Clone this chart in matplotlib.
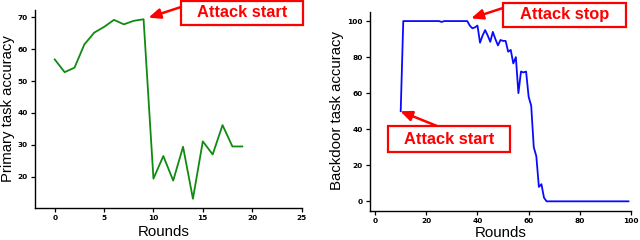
import matplotlib
matplotlib.use("Agg")
import matplotlib.pyplot as plt
from matplotlib.patches import Rectangle

plt.rcParams['font.family'] = ['Liberation Sans', 'DejaVu Sans']

# ---- data ----
primary_rounds = list(range(0, 20))
primary_acc = [56.8, 52.8, 54.2, 61.5, 65.2, 67.0, 69.2, 67.8, 68.9, 69.4,
               19.4, 26.5, 18.8, 29.4, 13.1, 31.1, 27.0, 36.2, 29.5, 29.5]

backdoor_rounds = list(range(10, 100))
backdoor_acc = ([50.0] + [100.0] * 15 + [99.5] + [100.0] * 10 +
                [97.5, 96.0, 96.5, 97.5, 88.0, 92.0, 95.0, 92.0, 88.5, 94.0,
                 90.0, 86.5, 89.5, 89.0, 89.0, 83.0, 84.0, 76.5, 80.0, 60.0,
                 72.0, 71.5, 72.0, 58.0, 53.0, 30.0, 25.0, 8.0, 9.5, 2.0] +
                [0.0] * 33)

left_xticks = [0, 5, 10, 15, 20, 25]
left_yticks = [20, 30, 40, 50, 60, 70]
right_xticks = [0, 20, 40, 60, 80, 100]
right_yticks = [0, 20, 40, 60, 80, 100]

W, H = 640, 240
fig = plt.figure(figsize=(6.4, 2.4), dpi=100)

def px_rect(x0, y0, x1, y1):
    return [x0 / W, (H - y1) / H, (x1 - x0) / W, (y1 - y0) / H]

ax1 = fig.add_axes(px_rect(35, 10, 302, 208))
ax2 = fig.add_axes(px_rect(370, 11.7, 631, 210.7))

ax1.plot(primary_rounds, primary_acc, color='#108a10', lw=1.3)
ax2.plot(backdoor_rounds, backdoor_acc, color='#0a0aff', lw=1.3)

ax1.set_xlim(-2, 25.05)
ax1.set_ylim(10.2, 72.3)
ax2.set_xlim(-2, 99.8)
ax2.set_ylim(-5.2, 105.2)

for ax, xt, yt in [(ax1, left_xticks, left_yticks), (ax2, right_xticks, right_yticks)]:
    ax.set_xticks(xt)
    ax.set_yticks(yt)
    for s in ['top', 'right']:
        ax.spines[s].set_visible(False)
    for s in ['left', 'bottom']:
        ax.spines[s].set_linewidth(1.0)
        ax.spines[s].set_color('black')
    ax.tick_params(axis='both', direction='out', length=3, width=0.9,
                   labelsize=5.3, pad=2, colors='black')
    for lab in ax.get_xticklabels() + ax.get_yticklabels():
        lab.set_fontweight('bold')
        lab.set_family(['DejaVu Sans'])

ax1.set_ylabel('Primary task accuracy', fontsize=10.7)
ax2.set_ylabel('Backdoor task accuracy', fontsize=10.8)
ax1.set_xlabel('Rounds', fontsize=10.8)
ax2.set_xlabel('Rounds', fontsize=10.8)
ax1.yaxis.set_label_coords(-0.075, 0.5)
ax2.yaxis.set_label_coords(-0.1, 0.505)
ax1.xaxis.set_label_coords(0.483, -0.088)
ax2.xaxis.set_label_coords(0.5, -0.075)

red = '#ff0000'
arrow = dict(arrowstyle='-|>,head_length=0.7,head_width=0.3', color=red,
             lw=1.8, shrinkA=0, shrinkB=0)

def box(x0, y0, x1, y1, label):
    r = Rectangle(((x0) / W, (H - y1) / H), (x1 - x0) / W, (y1 - y0) / H,
                  transform=fig.transFigure, facecolor='white', edgecolor=red,
                  lw=1.6, zorder=5)
    fig.patches.append(r)
    fig.text((x0 + x1) / 2 / W, 1 - (y0 + y1) / 2 / H, label, color=red,
             fontsize=11.8, fontweight='bold', ha='center', va='center',
             zorder=6)

ax1.annotate('', xy=(9.5, 69.9), xycoords='data',
             xytext=(181 / W, 1 - 7 / H), textcoords='figure fraction',
             arrowprops=arrow, annotation_clip=False)
ax2.annotate('', xy=(37.5, 101.5), xycoords='data',
             xytext=(503 / W, 1 - 8 / H), textcoords='figure fraction',
             arrowprops=arrow, annotation_clip=False)
ax2.annotate('', xy=(9.8, 50.0), xycoords='data',
             xytext=(437 / W, 1 - 126 / H), textcoords='figure fraction',
             arrowprops=arrow, annotation_clip=False)

box(181, 0.5, 303, 25, 'Attack start')
box(503, 3, 626, 27, 'Attack stop')
box(388, 126, 510, 152, 'Attack start')

fig.savefig('out.png', dpi=100)
